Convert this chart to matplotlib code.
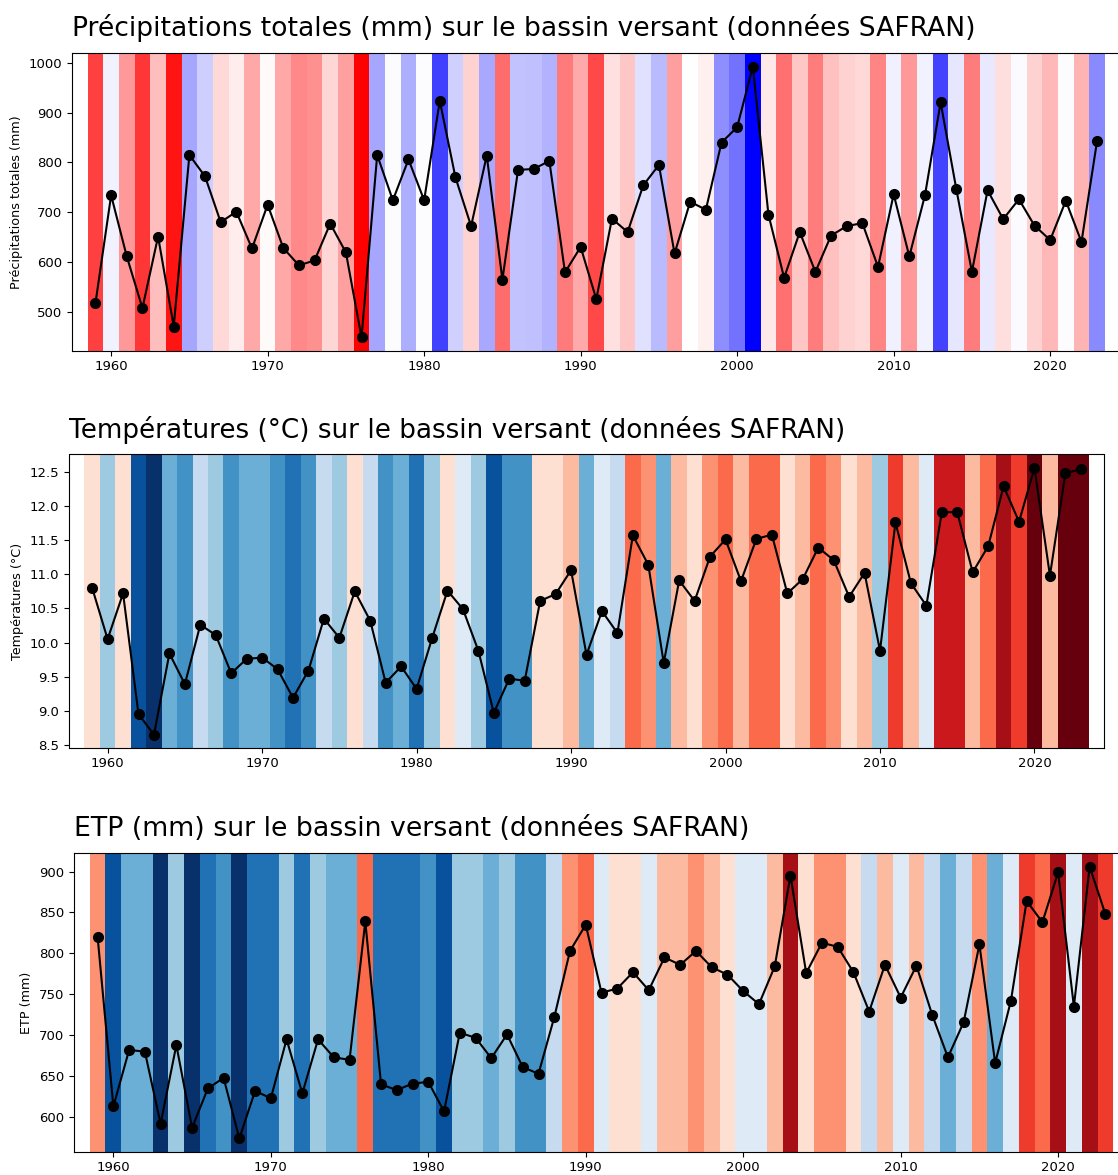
import numpy as np
from matplotlib import pyplot as plt
from matplotlib.colors import ListedColormap, Normalize

# années et séries
years = np.arange(1959, 2024)

precip = [517, 734, 611, 507, 651, 470, 815, 772, 680, 701,
          627, 715, 628, 593, 603, 677, 619, 448, 815, 724,
          806, 724, 924, 770, 672, 814, 564, 785, 787, 803,
          579, 630, 525, 687, 660, 754, 795, 617, 721, 705,
          840, 871, 993, 695, 568, 660, 580, 653, 672, 678,
          590, 736, 611, 734, 921, 747, 580, 744, 686, 726,
          673, 644, 723, 640, 844]

temp = [10.80, 10.05, 10.72, 8.95, 8.65, 9.84, 9.39, 10.26, 10.11, 9.55,
        9.76, 9.78, 9.61, 9.19, 9.59, 10.35, 10.07, 10.75, 10.32, 9.41,
        9.65, 9.32, 10.06, 10.76, 10.49, 9.88, 8.97, 9.47, 9.44, 10.61,
        10.71, 11.06, 9.82, 10.46, 10.14, 11.57, 11.14, 9.70, 10.91, 10.61,
        11.26, 11.51, 10.90, 11.52, 11.58, 10.72, 10.93, 11.39, 11.21, 10.67,
        11.02, 9.88, 11.76, 10.87, 10.54, 11.91, 11.91, 11.03, 11.41, 12.29,
        11.77, 12.56, 10.98, 12.48, 12.54]

etp = [820, 613, 682, 680, 592, 688, 587, 635, 648, 574,
       632, 623, 695, 629, 695, 673, 670, 839, 640, 633,
       641, 643, 607, 703, 697, 672, 701, 661, 653, 722,
       803, 835, 752, 757, 777, 755, 795, 786, 803, 783,
       774, 754, 738, 784, 895, 776, 813, 808, 777, 729,
       786, 746, 785, 725, 673, 716, 811, 666, 742, 864,
       838, 899, 735, 906, 848]

titles = ["Précipitations totales (mm) sur le bassin versant (données SAFRAN)",
          "Températures (°C) sur le bassin versant (données SAFRAN)",
          "ETP (mm) sur le bassin versant (données SAFRAN)"]
ylabels = ["Précipitations totales (mm)", "Températures (°C)", "ETP (mm)"]

# palette "warming stripes"
stripes = ListedColormap(['#08306b', '#08519c', '#2171b5', '#4292c6',
                          '#6baed6', '#9ecae1', '#c6dbef', '#deebf7',
                          '#fee0d2', '#fcbba1', '#fc9272', '#fb6a4a',
                          '#ef3b2c', '#cb181d', '#a50f15', '#67000d'])

W, H = 1118, 1175
fig = plt.figure(figsize=(W / 100, H / 100), dpi=100)

# positions des axes en pixels : gauche, droite, haut, bas
boxes = [(72, 1120.6, 53, 351),
         (69, 1104, 454.5, 748),
         (74, 1129, 853, 1152)]
title_sizes = [19.2, 18.9, 19.3]

panels = [
    (precip, plt.get_cmap('bwr_r'), Normalize(min(precip), max(precip))),
    (temp, stripes, Normalize(min(temp), max(temp))),
    (etp, stripes, Normalize(574, 938)),
]

for (vals, cmap, norm), (l, r, t, b), title, ylab, ts in zip(panels, boxes, titles, ylabels, title_sizes):
    ax = fig.add_axes([l / W, 1 - b / H, (r - l) / W, (b - t) / H])
    cols = cmap(norm(np.array(vals)))
    ax.bar(years, 1, width=1, bottom=0, color=cols, linewidth=0,
           transform=ax.get_xaxis_transform(), zorder=1)
    ax.plot(years, vals, color='black', marker='o', markersize=7,
            linewidth=1.5, zorder=3)
    ax.set_xlim(1957.5, 2024.5)
    ax.set_title(title, loc='left', fontsize=ts, pad=12)
    ax.set_ylabel(ylab, fontsize=9.2)
    ax.tick_params(labelsize=9.5)
    ax.tick_params(axis='x', pad=3)

fig.savefig("out.png", dpi=100)
